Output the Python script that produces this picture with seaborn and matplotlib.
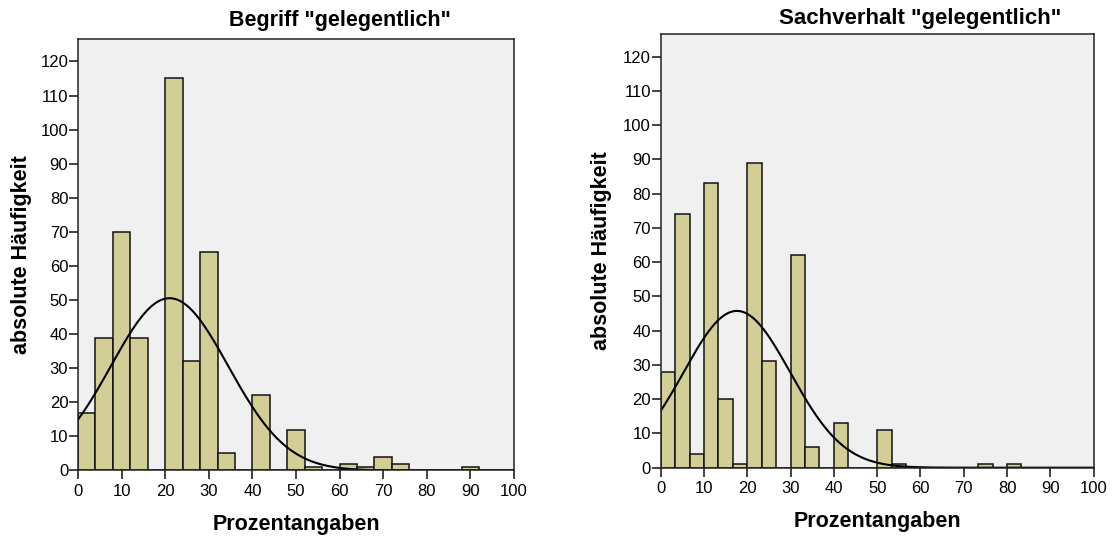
import numpy as np
import pandas as pd
import matplotlib
matplotlib.use("Agg")
import matplotlib.pyplot as plt
import seaborn as sns

# ---- data ----
left_title = 'Begriff "gelegentlich"'
right_title = 'Sachverhalt "gelegentlich"'
x_label = "Prozentangaben"
y_label = "absolute Häufigkeit"

left_bin_width = 4.0
left_counts = [17, 39, 70, 39, 0, 115, 32, 64, 5, 0, 22, 0, 12, 1, 0,
               2, 1, 4, 2, 0, 0, 0, 1, 0, 0]
left_mean = 21.0
left_sd = 13.45

right_bin_width = 100.0 / 30.0
right_counts = [28, 74, 4, 83, 20, 1, 89, 31, 0, 62, 6, 0, 13, 0, 0,
                11, 1, 0, 0, 0, 0, 0, 1, 0, 1, 0, 0, 0, 0, 0]
right_mean = 17.6
right_sd = 12.35

x_ticks = [0, 10, 20, 30, 40, 50, 60, 70, 80, 90, 100]
y_ticks = [0, 10, 20, 30, 40, 50, 60, 70, 80, 90, 100, 110, 120]

# ---- style ----
sns.set_theme(style="ticks")
plt.rcParams["font.family"] = ["Liberation Sans", "DejaVu Sans"]
plt.rcParams["text.color"] = "black"
plt.rcParams["axes.labelcolor"] = "black"

BAR = "#D3CE98"
FACE = "#F0F0F0"

fig = plt.figure(figsize=(11.13, 5.38), dpi=100)
ax_l = fig.add_axes([0.0701, 0.1255, 0.3917, 0.8015])
ax_r = fig.add_axes([0.5936, 0.1307, 0.3890, 0.8055])


def draw(ax, counts, width, mean, sd, ylab_x, xlab_y):
    n_bins = len(counts)
    centers = (np.arange(n_bins) + 0.5) * width
    df = pd.DataFrame({"x": centers, "w": np.asarray(counts, dtype=float)})
    sns.histplot(data=df, x="x", weights="w", binwidth=width,
                 binrange=(0, n_bins * width), ax=ax,
                 color=BAR, edgecolor="#111111", linewidth=1.1, alpha=1.0)
    total = float(np.sum(counts))
    xs = np.linspace(0, 100, 400)
    ys = total * width / (sd * np.sqrt(2 * np.pi)) * np.exp(-0.5 * ((xs - mean) / sd) ** 2)
    sns.lineplot(x=xs, y=ys, ax=ax, color="black", linewidth=1.5)
    ax.set_facecolor(FACE)
    ax.set_xlim(0, 100)
    ax.set_ylim(0, 126.5)
    ax.set_xticks(x_ticks)
    ax.set_yticks(y_ticks)
    ax.tick_params(axis="both", direction="out", length=6.5, width=1.1,
                   colors="#111111", labelsize=12, labelcolor="black")
    ax.tick_params(axis="y", pad=0.5)
    ax.tick_params(axis="x", pad=3)
    for s in ax.spines.values():
        s.set_visible(True)
        s.set_color("#222222")
        s.set_linewidth(1.1)
    ax.set_xlabel(x_label, fontsize=15.5, fontweight="bold", color="black")
    ax.set_ylabel(y_label, fontsize=15.5, fontweight="bold", color="black")
    ax.yaxis.set_label_coords(ylab_x, 0.5)
    ax.xaxis.set_label_coords(0.5, xlab_y)


draw(ax_l, left_counts, left_bin_width, left_mean, left_sd, -0.106, -0.100)
draw(ax_r, right_counts, right_bin_width, right_mean, right_sd, -0.1125, -0.101)

fig.text(0.3055, 0.961, left_title, ha="center", va="center",
         fontsize=15.5, fontweight="bold", color="black")
fig.text(0.8266, 0.9665, right_title, ha="center", va="center",
         fontsize=16, fontweight="bold", color="black")

fig.savefig("out.png", dpi=100)
